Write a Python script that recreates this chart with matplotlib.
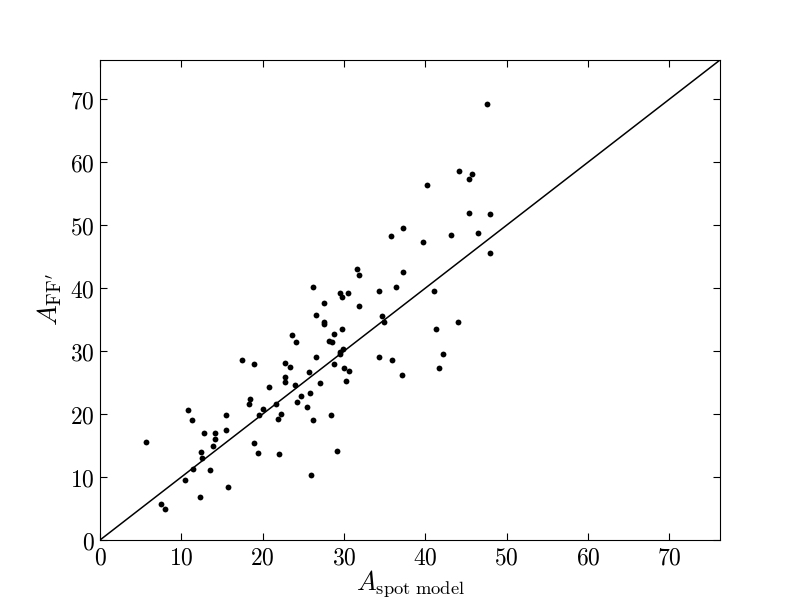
import matplotlib
matplotlib.use('Agg')
import matplotlib.pyplot as plt
from matplotlib.ticker import FuncFormatter, MultipleLocator
import numpy as np

plt.rcParams['mathtext.fontset'] = 'cm'

# points (spot model area vs FF' area)
a_spot = [5.6, 10.8, 11.3, 18.4, 18.3, 15.5, 19.5, 12.8, 14.2, 15.5,
          14.1, 13.9, 12.4, 12.6, 18.9, 19.4, 11.4, 13.5, 10.5, 15.7,
          12.3, 7.5, 8.0, 26.5, 23.6, 24.1, 17.4, 18.9, 22.8, 23.3,
          26.5, 25.7, 22.8, 22.8, 24.0, 20.8, 27.1, 25.8, 24.7, 24.2,
          25.4, 21.6, 20.1, 22.2, 21.9, 26.2, 22.0, 31.6, 31.9, 26.2,
          29.5, 29.7, 30.5, 34.3, 27.5, 31.8, 27.6, 27.5, 29.7, 28.8,
          28.1, 28.5, 29.9, 29.5, 29.5, 34.3, 28.8, 30.0, 30.6, 30.3,
          28.4, 29.1, 25.9, 44.1, 45.7, 45.4, 40.2, 45.4, 47.9, 37.2,
          35.8, 43.1, 46.5, 39.7, 47.9, 37.2, 36.4, 41.1, 34.7, 34.9,
          44.0, 41.3, 35.9, 42.2, 41.7, 37.1, 47.6]
a_ff = [15.5, 20.6, 19.0, 22.4, 21.6, 19.8, 19.9, 17.0, 17.0, 17.4,
        16.0, 14.9, 13.9, 13.0, 15.4, 13.8, 11.2, 11.1, 9.5, 8.4,
        6.8, 5.7, 4.9, 35.7, 32.5, 31.4, 28.6, 27.9, 28.1, 27.5,
        29.1, 26.7, 25.9, 25.1, 24.6, 24.3, 24.9, 23.3, 22.9, 21.9,
        21.1, 21.6, 20.8, 20.0, 19.2, 19.0, 13.6, 43.0, 42.1, 40.2,
        39.2, 38.6, 39.2, 39.5, 37.6, 37.2, 34.6, 34.3, 33.5, 32.7,
        31.6, 31.4, 30.3, 29.8, 29.5, 29.1, 27.9, 27.3, 26.8, 25.2,
        19.8, 14.1, 10.4, 58.6, 58.1, 57.3, 56.4, 51.9, 51.8, 49.6,
        48.3, 48.4, 48.8, 47.3, 45.6, 42.6, 40.2, 39.5, 35.6, 34.6,
        34.6, 33.5, 28.6, 29.5, 27.3, 26.2, 69.3]

lim = 1.1 * max(max(a_spot), max(a_ff))

fig = plt.figure(figsize=(8, 6), dpi=100)
ax = fig.add_axes([0.125, 0.1, 0.775, 0.8])

ax.plot(a_spot, a_ff, 'o', color='k', ms=4.2, mec='k', mew=0)
ax.plot([0, lim], [0, lim], '-', color='k', lw=1.1)

ax.set_xlim(0, lim)
ax.set_ylim(0, lim)
ax.xaxis.set_major_locator(MultipleLocator(10))
ax.yaxis.set_major_locator(MultipleLocator(10))
fmt = FuncFormatter(lambda v, p: r'$%d$' % v)
ax.xaxis.set_major_formatter(fmt)
ax.yaxis.set_major_formatter(fmt)
ax.tick_params(direction='in', top=True, right=True, length=5, width=0.8,
               labelsize=17, pad=4)

ax.set_xlabel(r'$A_{\mathrm{spot\ model}}$', fontsize=19, labelpad=-1)
ax.set_ylabel(r'$A_{\mathrm{FF}^{\prime}}$', fontsize=20, labelpad=4)

fig.savefig('out.png', dpi=100)
